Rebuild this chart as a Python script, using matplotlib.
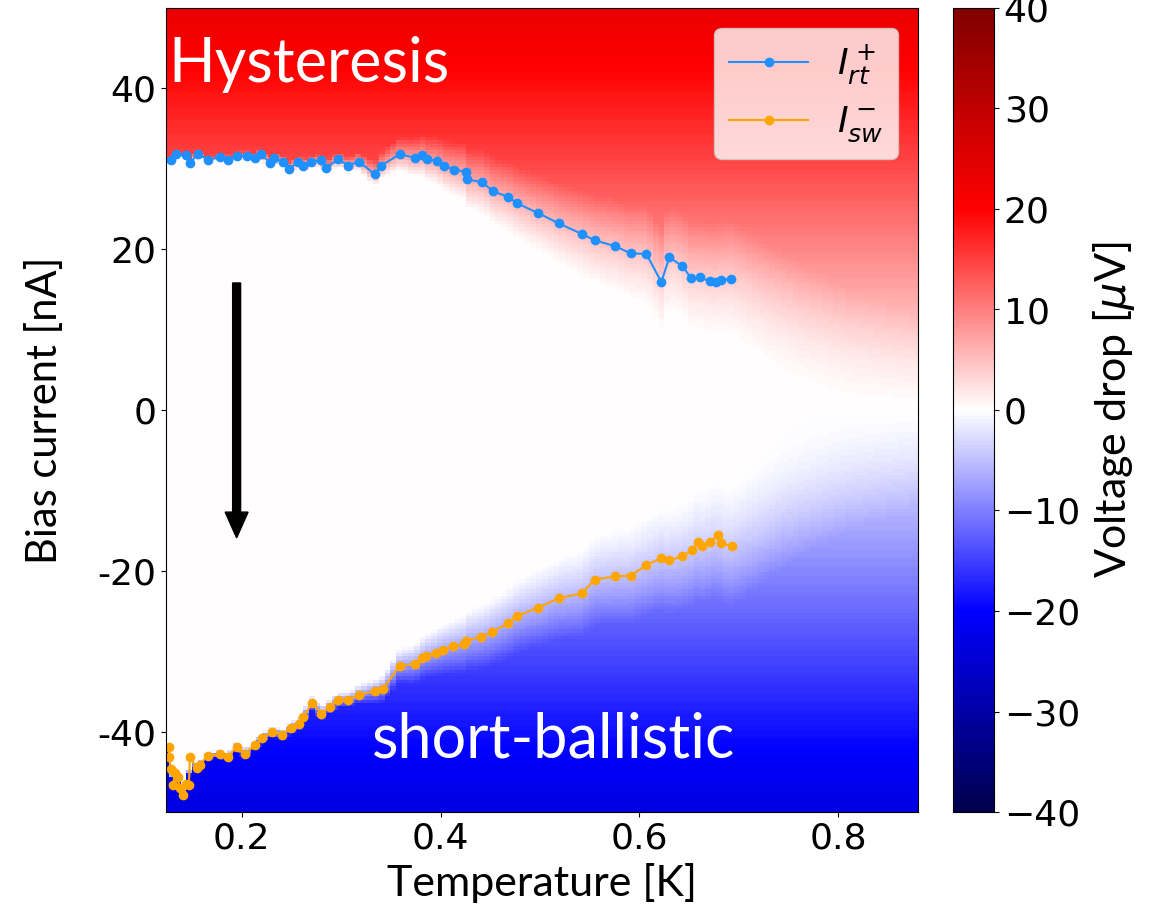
import matplotlib
matplotlib.use("Agg")
import matplotlib.pyplot as plt
import numpy as np

# ---- data ----
# retrapping current I_rt^+ (blue)
blue_T = [0.129, 0.134, 0.144, 0.148, 0.156, 0.166, 0.178, 0.186, 0.195, 0.205,
          0.213, 0.220, 0.229, 0.233, 0.242, 0.248, 0.257, 0.262, 0.270, 0.280,
          0.285, 0.297, 0.307, 0.318, 0.334, 0.340, 0.359, 0.374, 0.381, 0.386,
          0.396, 0.403, 0.414, 0.426, 0.427, 0.442, 0.453, 0.468, 0.477, 0.498,
          0.519, 0.542, 0.555, 0.575, 0.591, 0.607, 0.622, 0.630, 0.643, 0.652,
          0.661, 0.671, 0.677, 0.682, 0.692]
blue_I = [31.1, 31.8, 31.7, 30.7, 31.9, 31.1, 31.5, 31.1, 31.6, 31.6,
          31.4, 31.8, 30.7, 31.3, 30.9, 30.0, 30.9, 30.4, 30.8, 31.1,
          30.1, 31.2, 30.4, 30.9, 29.3, 30.4, 31.8, 31.4, 31.7, 31.2,
          31.0, 30.4, 29.9, 29.6, 28.7, 28.3, 27.2, 26.5, 25.7, 24.5,
          23.2, 21.9, 21.1, 20.4, 19.5, 19.4, 15.9, 19.0, 17.9, 16.4,
          16.5, 16.0, 15.9, 16.2, 16.3]

# switching current I_sw^- (orange)
org_T = [0.127, 0.127, 0.129, 0.133, 0.131, 0.136, 0.138, 0.141, 0.144, 0.147,
         0.148, 0.155, 0.158, 0.166, 0.178, 0.186, 0.195, 0.203, 0.213, 0.221,
         0.231, 0.241, 0.250, 0.258, 0.262, 0.271, 0.280, 0.289, 0.297, 0.307,
         0.318, 0.334, 0.342, 0.359, 0.374, 0.381, 0.385, 0.395, 0.402, 0.413,
         0.424, 0.426, 0.441, 0.452, 0.468, 0.477, 0.498, 0.519, 0.542, 0.555,
         0.575, 0.591, 0.607, 0.622, 0.630, 0.643, 0.653, 0.659, 0.663, 0.671,
         0.679, 0.682, 0.693]
org_I = [-41.9, -43.2, -44.7, -45.1, -46.7, -45.7, -47.0, -47.9, -46.5, -46.7,
         -43.2, -44.5, -44.1, -43.0, -42.8, -43.2, -41.9, -42.8, -41.7, -40.8,
         -40.0, -40.4, -39.5, -39.1, -38.2, -36.4, -37.8, -36.9, -36.1, -36.1,
         -35.4, -35.0, -34.7, -31.8, -31.6, -30.9, -30.6, -30.2, -29.8, -29.4,
         -29.1, -28.7, -28.2, -27.6, -26.5, -25.6, -24.6, -23.4, -22.8, -21.1,
         -20.7, -20.6, -19.3, -18.4, -18.7, -18.2, -17.4, -16.4, -16.9, -16.4,
         -15.5, -16.6, -16.9]

ext_T = [0.75, 0.81, 0.88]
ext_Ip = [11.0, 6.0, 2.0]
ext_Im = [-11.0, -6.0, -2.0]

# normal-state resistance [uV/nA] and transition width [nA] vs T
R_N = 0.47
w_T = [0.12, 0.31, 0.44, 0.62, 0.88]
w_nA = [0.5, 2.0, 8.0, 13.0, 20.0]

T_MIN, T_MAX = 0.124, 0.880

# ---- build the voltage map ----
T_grid = np.linspace(T_MIN, T_MAX, 130)
I_grid = np.linspace(-50, 50, 241)
o = np.argsort(blue_T)
Icp = np.interp(T_grid, np.r_[np.array(blue_T)[o], ext_T], np.r_[np.array(blue_I)[o], ext_Ip])
o = np.argsort(org_T)
Icm = np.interp(T_grid, np.r_[np.array(org_T)[o], ext_T], np.r_[np.array(org_I)[o], ext_Im])
w = np.interp(T_grid, w_T, w_nA)

TT, II = np.meshgrid(T_grid, I_grid)
Ic = np.where(II >= 0, Icp[None, :], -Icm[None, :])
s = np.clip((np.abs(II) - (Ic - w[None, :] / 2)) / w[None, :], 0, 1)
V = R_N * II * s

# ---- plot ----
fig = plt.figure(figsize=(11.58, 9.05), dpi=100)
ax = fig.add_axes([166 / 1158, 93 / 905, 752 / 1158, 804 / 905])
cax = fig.add_axes([953 / 1158, 93 / 905, 41 / 1158, 804 / 905])

LABEL_FONT = ["Lato", "DejaVu Sans"]

mesh = ax.pcolormesh(T_grid, I_grid, V, cmap="seismic", vmin=-40, vmax=40,
                     shading="auto", rasterized=True)

ax.plot(blue_T, blue_I, "-o", color="#1e90ff", ms=6, lw=1.5, label=r"$I_{rt}^+$")
ax.plot(org_T, org_I, "-o", color="orange", ms=6, lw=1.5, label=r"$I_{sw}^-$")

ax.arrow(0.195, 15.8, 0, -31.7, width=0.008, head_width=0.023,
         head_length=3.2, length_includes_head=True, color="black", zorder=5)

ax.text(0.003, 0.908, "Hysteresis", transform=ax.transAxes, color="white",
        fontsize=44, family=LABEL_FONT, ha="left", va="baseline")
ax.text(0.274, 0.068, "short-ballistic", transform=ax.transAxes, color="white",
        fontsize=44, family=LABEL_FONT, ha="left", va="baseline")

ax.set_xlim(T_MIN, T_MAX)
ax.set_ylim(-50, 50)
ax.set_xticks([0.2, 0.4, 0.6, 0.8])
ax.set_xticklabels(["0.2", "0.4", "0.6", "0.8"])
ax.set_yticks([40, 20, 0, -20, -40])
ax.set_yticklabels(["40", "20", "0", "-20", "-40"])
ax.tick_params(labelsize=26)
ax.set_xlabel("Temperature [K]", fontsize=31, family=LABEL_FONT, labelpad=5)
ax.set_ylabel("Bias current [nA]", fontsize=30, family=LABEL_FONT, labelpad=24)

leg = ax.legend(loc="upper right", fontsize=26, borderaxespad=0.55,
                handlelength=2.2)

cb = fig.colorbar(mesh, cax=cax)
cb.set_ticks(np.arange(-40, 41, 10))
cb.ax.tick_params(labelsize=26)
cb.set_label(r"Voltage drop [$\mu$V]", fontsize=31, family=LABEL_FONT, labelpad=8)

fig.savefig("out.png", dpi=100)
